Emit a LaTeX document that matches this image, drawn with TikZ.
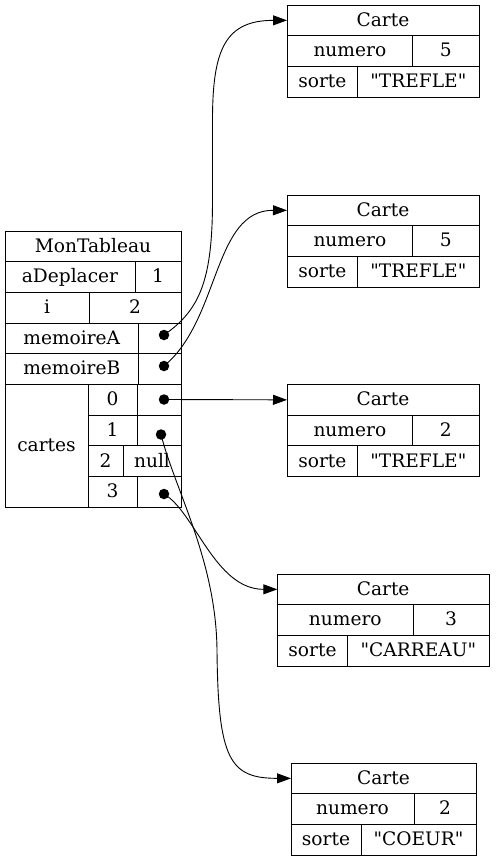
\documentclass[tikz,border=0pt]{standalone}
\usepackage{fontspec}
\newfontfamily\cellfont{DejaVu Serif}
\usetikzlibrary{arrows.meta}
\tikzset{
  cell/.style={draw=black, line width=0.9pt, inner sep=0pt, outer sep=0pt,
    font=\cellfont\fontsize{18.6}{22}\selectfont, text height=13.5pt, text depth=2pt},
  ptrdot/.style={circle, fill=black, inner sep=0pt, minimum size=10.5pt},
  ptr/.style={line width=0.9pt, -{Triangle[length=14pt,width=10pt]}},
}
\newcommand\rc[6]{%
  \node[cell, minimum width={(#4-#2)*1pt}, minimum height={(#5-#3)*1pt}] (#1) at ({(#2+#4)/2},{(#3+#5)/2}) {#6};}
\begin{document}
\begin{tikzpicture}[x=1pt,y=-1pt]
\useasboundingbox (0,0) rectangle (495,861);
% MonTableau
\rc{tT}{5}{231}{181}{261.7}{MonTableau}
\rc{tAk}{5}{261.7}{135}{292.4}{aDeplacer}
\rc{tAv}{135}{261.7}{181}{292.4}{1}
\rc{tIk}{5}{292.4}{89}{323.1}{i}
\rc{tIv}{89}{292.4}{181}{323.1}{2}
\rc{tMAk}{5}{323.1}{138.5}{353.8}{memoireA}
\rc{tMAv}{138.5}{323.1}{181}{353.8}{}
\rc{tMBk}{5}{353.8}{138.5}{384.5}{memoireB}
\rc{tMBv}{138.5}{353.8}{181}{384.5}{}
\rc{tC}{5}{384.5}{88}{507.3}{cartes}
\rc{tC0k}{88}{384.5}{137}{415.2}{0}
\rc{tC0v}{137}{384.5}{181}{415.2}{}
\rc{tC1k}{88}{415.2}{137}{445.9}{1}
\rc{tC1v}{137}{415.2}{181}{445.9}{}
\rc{tC2k}{88}{445.9}{123}{476.6}{2}
\rc{tC2v}{123}{445.9}{181}{476.6}{null}
\rc{tC3k}{88}{476.6}{137}{507.3}{3}
\rc{tC3v}{137}{476.6}{181}{507.3}{}
% Card 1
\rc{aT}{287}{5}{479}{35.7}{Carte}
\rc{aNk}{287}{35.7}{412.7}{66.4}{numero}
\rc{aNv}{412.7}{35.7}{479}{66.4}{5}
\rc{aSk}{287}{66.4}{357.7}{97.1}{sorte}
\rc{aSv}{357.7}{66.4}{479}{97.1}{"TREFLE"}
% Card 2
\rc{bT}{287}{195}{479}{225.7}{Carte}
\rc{bNk}{287}{225.7}{412.7}{256.4}{numero}
\rc{bNv}{412.7}{225.7}{479}{256.4}{5}
\rc{bSk}{287}{256.4}{357.7}{287.1}{sorte}
\rc{bSv}{357.7}{256.4}{479}{287.1}{"TREFLE"}
% Card 3
\rc{cT}{287}{384.5}{479}{415.2}{Carte}
\rc{cNk}{287}{415.2}{412.7}{445.9}{numero}
\rc{cNv}{412.7}{415.2}{479}{445.9}{2}
\rc{cSk}{287}{445.9}{357.7}{476.6}{sorte}
\rc{cSv}{357.7}{445.9}{479}{476.6}{"TREFLE"}
% Card 4
\rc{dT}{277.3}{574}{489}{604.7}{Carte}
\rc{dNk}{277.3}{604.7}{413.3}{635.4}{numero}
\rc{dNv}{413.3}{604.7}{489}{635.4}{3}
\rc{dSk}{277.3}{635.4}{347.7}{666.1}{sorte}
\rc{dSv}{347.7}{635.4}{489}{666.1}{"CARREAU"}
% Card 5
\rc{eT}{291}{763}{476}{793.7}{Carte}
\rc{eNk}{291}{793.7}{414}{824.4}{numero}
\rc{eNv}{414}{793.7}{476}{824.4}{2}
\rc{eSk}{291}{824.4}{361}{855.1}{sorte}
\rc{eSv}{361}{824.4}{476}{855.1}{"COEUR"}
% pointer dots
\node[ptrdot] (dMA) at (164,335) {};
\node[ptrdot] (dMB) at (164,366) {};
\node[ptrdot] (dC0) at (164,399.5) {};
\node[ptrdot] (dC1) at (161,434.5) {};
\node[ptrdot] (dC3) at (164,494) {};
% connectors
\draw[ptr] (dMA.center) .. controls (200,310) and (212.5,280) .. (212.5,200)
  -- (212.5,120) .. controls (212.5,50) and (225,20.4) .. (aT.west);
\draw[ptr] (dMB.center) .. controls (220,320) and (213,210) .. (bT.west);
\draw[ptr] (dC0.center) -- (cT.west);
\draw[ptr] (dC3.center) .. controls (195,512) and (215,589.3) .. (dT.west);
\draw[ptr] (dC1.center) .. controls (175,490) and (216,560) .. (217,650)
  .. controls (218,760) and (230,778.3) .. (eT.west);
\end{tikzpicture}
\end{document}
